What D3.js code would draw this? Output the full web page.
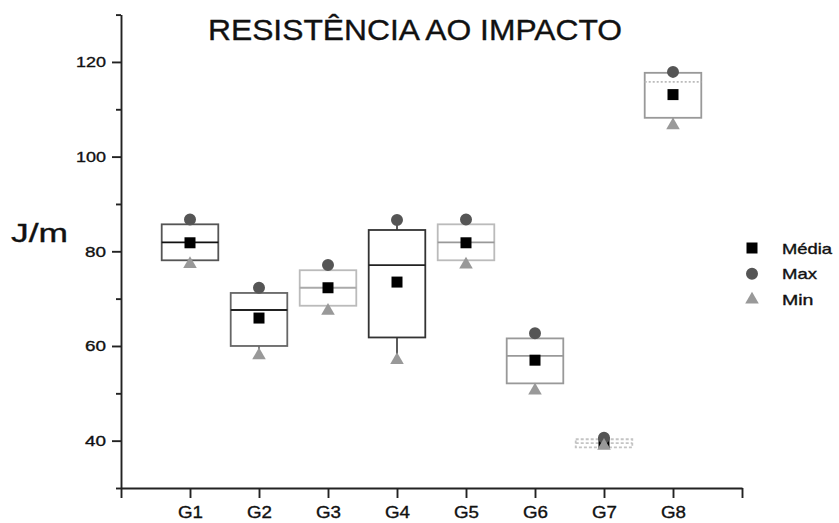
<!DOCTYPE html>
<html>
<head>
<meta charset="utf-8">
<script src="https://cdn.jsdelivr.net/npm/d3@7"></script>
<style>
  body { margin: 0; background: #fff; }
  svg { display: block; font-family: 'Liberation Sans', Arial, sans-serif; }
  svg text { stroke: #111; stroke-width: 0.35px; }
</style>
</head>
<body>
<svg width="839" height="523"></svg>
<script>
const groups = ['G1', 'G2', 'G3', 'G4', 'G5', 'G6', 'G7', 'G8'];
const q1Values = [78.1, 60.0, 68.5, 61.8, 78.1, 52.1, 38.6, 108.2];
const q3Values = [85.7, 71.2, 76.0, 84.5, 85.7, 61.6, 40.3, 117.7];
const medianValues = [81.9, 67.6, 72.3, 77.1, 81.9, 57.9, 39.5, 115.8];
const meanValues = [81.8, 65.9, 72.3, 73.5, 81.8, 57.0, 39.6, 113.1];
const maxValues = [86.7, 72.3, 77.1, 86.6, 86.7, 62.7, 40.6, 117.9];
const minValues = [77.3, 58.0, 67.4, 57.0, 77.2, 50.6, 38.9, 106.6];
const yTicks = [40, 60, 80, 100, 120];
const yMinorTicks = [30, 50, 70, 90, 110, 130];
const legendLabels = ['Média', 'Max', 'Min'];

// box styling per group (the original uses different pens per box)
const boxStroke = ['#555', '#666', '#bbb', '#333', '#bbb', '#999', '#c4c4c4', '#999'];
const medianStroke = ['#111', '#222', '#aaa', '#222', '#999', '#999', '#c4c4c4', '#bbb'];
const boxDash = [null, null, null, null, null, null, '3,2', null];
const medianDash = [null, null, null, null, null, null, '3,2', '2,2'];

const svg = d3.select('svg');
const plotLeft = 121, plotRight = 742, plotTop = 14.6, plotBottom = 488;

const x = d3.scaleLinear().domain([0, 9]).range([plotLeft, plotRight]);
const y = d3.scaleLinear().domain([30, 130]).range([plotBottom, plotTop]);
const boxW = (x(1) - x(0)) * 0.82;

const rows = groups.map((g, i) => ({
  g, i,
  q1: q1Values[i], q3: q3Values[i], med: medianValues[i],
  mean: meanValues[i], max: maxValues[i], min: minValues[i]
}));

// title + y label
svg.append('text')
  .attr('x', 208).attr('y', 40)
  .attr('font-size', 29)
  .attr('textLength', 414).attr('lengthAdjust', 'spacingAndGlyphs')
  .attr('fill', '#111')
  .text('RESISTÊNCIA AO IMPACTO')
;
svg.append('text')
  .attr('x', 11).attr('y', 242)
  .attr('font-size', 25)
  .attr('textLength', 57).attr('lengthAdjust', 'spacingAndGlyphs')
  .attr('fill', '#111')
  .text('J/m')
;

// axes
const yAxis = svg.append('g')
  .attr('transform', `translate(${plotLeft},0)`)
  .call(d3.axisLeft(y).tickValues(yTicks).tickSize(9).tickPadding(6).tickSizeOuter(0))
;
yAxis.selectAll('text')
  .attr('font-size', 15)
  .attr('fill', '#111')
  .attr('textLength', d => d >= 100 ? 30 : 21)
  .attr('lengthAdjust', 'spacingAndGlyphs')
;
svg.append('g')
  .attr('transform', `translate(${plotLeft},0)`)
  .call(d3.axisLeft(y).tickValues(yMinorTicks).tickSize(5).tickFormat('').tickSizeOuter(0))
  .select('.domain').remove()
;

const xAxis = svg.append('g')
  .attr('transform', `translate(0,${plotBottom})`)
  .call(d3.axisBottom(x)
    .tickValues(d3.range(0, 10))
    .tickSize(10).tickPadding(9).tickSizeOuter(0)
    .tickFormat(d => groups[d - 1] || ''))
;
xAxis.selectAll('text')
  .attr('font-size', 16)
  .attr('fill', '#111')
  .attr('textLength', d => groups[d - 1] ? 25 : null)
  .attr('lengthAdjust', 'spacingAndGlyphs')
;
svg.selectAll('.domain, .tick line')
  .attr('stroke', '#222')
  .attr('stroke-width', 1.9)
;

// boxes
const boxes = svg.append('g')
  .selectAll('g')
  .data(rows)
  .enter()
  .append('g')
;
boxes.append('line')
  .attr('x1', d => x(d.i + 1)).attr('x2', d => x(d.i + 1))
  .attr('y1', d => y(d.q3)).attr('y2', d => y(d.max))
  .attr('stroke', d => boxStroke[d.i]).attr('stroke-width', 1.6)
;
boxes.append('line')
  .attr('x1', d => x(d.i + 1)).attr('x2', d => x(d.i + 1))
  .attr('y1', d => y(d.q1)).attr('y2', d => y(d.min))
  .attr('stroke', d => boxStroke[d.i]).attr('stroke-width', 1.6)
;
boxes.append('rect')
  .attr('x', d => x(d.i + 1) - boxW / 2)
  .attr('width', boxW)
  .attr('y', d => y(d.q3))
  .attr('height', d => y(d.q1) - y(d.q3))
  .attr('fill', 'none')
  .attr('stroke', d => boxStroke[d.i])
  .attr('stroke-width', 1.8)
  .attr('stroke-dasharray', d => boxDash[d.i])
;
boxes.append('line')
  .attr('x1', d => x(d.i + 1) - boxW / 2)
  .attr('x2', d => x(d.i + 1) + boxW / 2)
  .attr('y1', d => y(d.med)).attr('y2', d => y(d.med))
  .attr('stroke', d => medianStroke[d.i])
  .attr('stroke-width', 1.8)
  .attr('stroke-dasharray', d => medianDash[d.i])
;

// markers
const square = d3.symbol().type(d3.symbolSquare).size(121);
const circle = d3.symbol().type(d3.symbolCircle).size(113);
const triangle = d3.symbol().type(d3.symbolTriangle).size(80);

boxes.append('path')
  .attr('d', square)
  .attr('transform', d => `translate(${x(d.i + 1)},${y(d.mean)})`)
  .attr('fill', '#000')
;
boxes.append('path')
  .attr('d', circle)
  .attr('transform', d => `translate(${x(d.i + 1)},${y(d.max)})`)
  .attr('fill', '#555')
;
boxes.append('path')
  .attr('d', triangle)
  .attr('transform', d => `translate(${x(d.i + 1)},${y(d.min)})`)
  .attr('fill', '#999')
;

// legend
const legendShapes = [square, circle, triangle];
const legendFill = ['#000', '#555', '#999'];
const legendWidths = [50, 35, 31.5];
const legend = svg.append('g')
  .selectAll('g')
  .data(legendLabels)
  .enter()
  .append('g')
  .attr('transform', (d, i) => `translate(752,${248 + i * 25.8})`)
;
legend.append('path')
  .attr('d', (d, i) => legendShapes[i]())
  .attr('fill', (d, i) => legendFill[i])
;
legend.append('text')
  .attr('x', 30).attr('y', 5.5)
  .attr('font-size', 14.5)
  .attr('fill', '#111')
  .attr('textLength', (d, i) => legendWidths[i])
  .attr('lengthAdjust', 'spacingAndGlyphs')
  .text(d => d)
;
</script>
</body>
</html>
